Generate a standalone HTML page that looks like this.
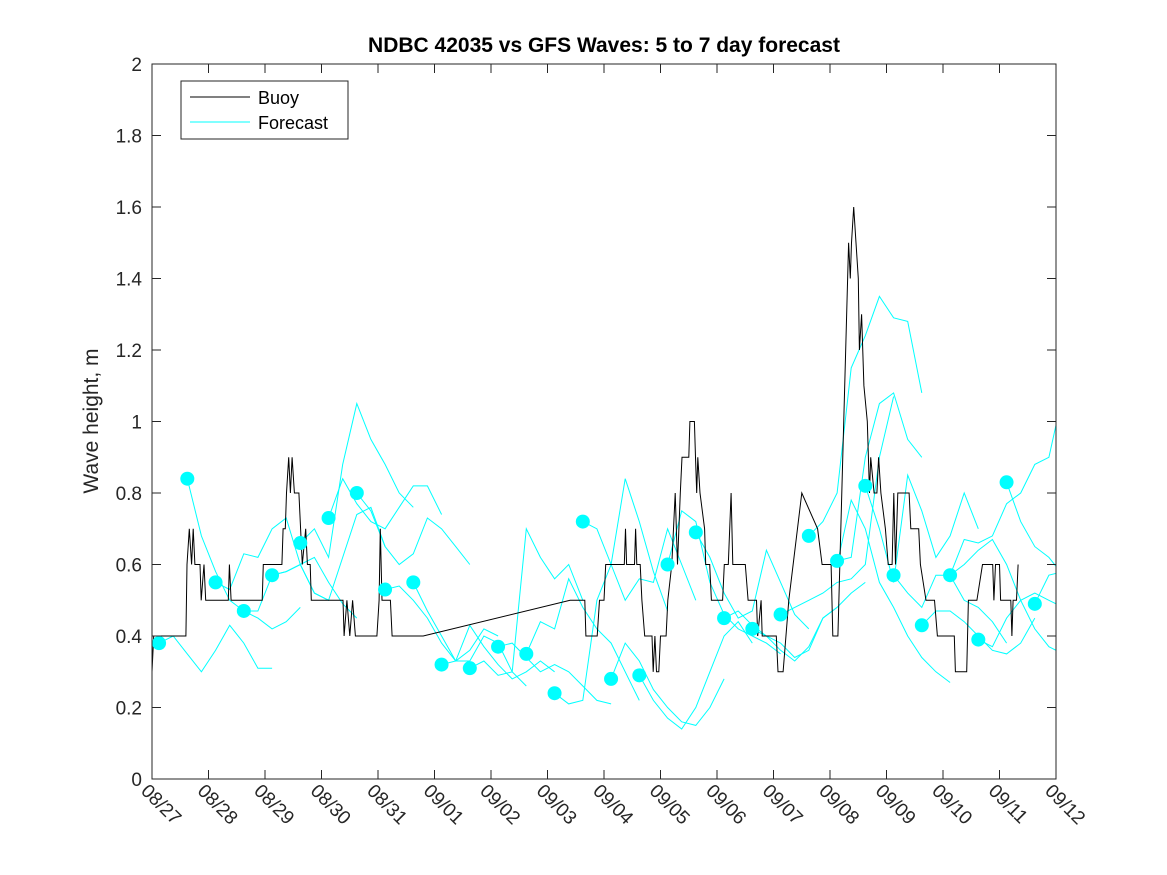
<!DOCTYPE html>
<html><head><meta charset="utf-8"><style>
html,body{margin:0;padding:0;background:#fff;}
svg{display:block;font-family:"Liberation Sans",sans-serif;}
</style></head><body>
<svg id="chart" width="1167" height="875" viewBox="0 0 1167 875">
<rect width="1167" height="875" fill="#fff"/>
<text x="604" y="52" text-anchor="middle" font-size="21" font-weight="bold" fill="#000">NDBC 42035 vs GFS Waves: 5 to 7 day forecast</text>
<text transform="translate(98,421) rotate(-90)" text-anchor="middle" font-size="21" fill="#262626">Wave height, m</text>
<defs><clipPath id="pc"><rect x="152" y="64" width="904" height="715"/></clipPath></defs>
<g id="plot" clip-path="url(#pc)"></g>
<g id="axes"></g>
<g>
<rect x="181" y="81" width="167" height="58" fill="#fff" stroke="#262626" stroke-width="1"/>
<line x1="190" y1="97" x2="250" y2="97" stroke="#000" stroke-width="1"/>
<text x="258" y="104" font-size="18" fill="#000">Buoy</text>
<line x1="190" y1="122" x2="250" y2="122" stroke="#00ffff" stroke-width="1"/>
<text x="258" y="129" font-size="18" fill="#000">Forecast</text>
</g>
</svg>
<script>
const xTickLabels=["08/27","08/28","08/29","08/30","08/31","09/01","09/02","09/03","09/04","09/05","09/06","09/07","09/08","09/09","09/10","09/11","09/12"];
const yTicks=[0,0.2,0.4,0.6,0.8,1,1.2,1.4,1.6,1.8,2];
const buoyDays=[0,0.03,0.6,0.62,0.66,0.7,0.73,0.76,0.85,0.87,0.92,0.95,1.35,1.37,1.4,1.95,1.97,2.3,2.32,2.36,2.38,2.42,2.45,2.48,2.52,2.6,2.63,2.66,2.72,2.75,2.8,2.82,3.38,3.4,3.45,3.5,3.55,3.6,3.98,4.02,4.04,4.07,4.22,4.25,4.8,7.4,7.66,7.68,7.88,7.92,8.0,8.03,8.36,8.38,8.4,8.54,8.56,8.58,8.64,8.67,8.72,8.85,8.87,8.9,8.93,8.97,9.0,9.1,9.13,9.2,9.26,9.3,9.35,9.38,9.5,9.52,9.6,9.62,9.64,9.66,9.7,9.78,9.8,9.87,9.9,10.1,10.13,10.2,10.25,10.28,10.5,10.55,10.7,10.72,10.78,10.8,11.05,11.08,11.17,11.27,11.5,11.78,11.86,12.02,12.05,12.14,12.33,12.36,12.38,12.42,12.46,12.5,12.52,12.56,12.6,12.66,12.7,12.72,12.78,12.83,12.86,12.9,12.98,13.03,13.1,13.13,13.16,13.2,13.4,13.43,13.57,13.6,13.7,13.85,13.9,14.2,14.22,14.42,14.45,14.6,14.7,14.88,14.9,14.93,15.0,15.02,15.2,15.22,15.24,15.3,15.33];
const buoyValues=[0.3,0.4,0.4,0.6,0.7,0.6,0.7,0.6,0.6,0.5,0.6,0.5,0.5,0.6,0.5,0.5,0.6,0.6,0.7,0.7,0.8,0.9,0.8,0.9,0.8,0.8,0.7,0.6,0.7,0.6,0.6,0.5,0.5,0.4,0.5,0.4,0.5,0.4,0.4,0.5,0.7,0.5,0.5,0.4,0.4,0.5,0.5,0.4,0.4,0.5,0.5,0.6,0.6,0.7,0.6,0.6,0.7,0.6,0.6,0.5,0.4,0.4,0.3,0.4,0.3,0.3,0.4,0.4,0.5,0.6,0.8,0.6,0.8,0.9,0.9,1.0,1.0,0.9,0.8,0.9,0.8,0.7,0.6,0.6,0.5,0.5,0.6,0.6,0.8,0.6,0.6,0.5,0.5,0.4,0.5,0.4,0.4,0.3,0.3,0.5,0.8,0.7,0.6,0.6,0.4,0.4,1.5,1.4,1.5,1.6,1.5,1.4,1.2,1.3,1.1,1.0,0.8,0.9,0.8,0.8,0.9,0.8,0.7,0.6,0.6,0.8,0.6,0.8,0.8,0.7,0.7,0.6,0.5,0.5,0.4,0.4,0.3,0.3,0.5,0.5,0.6,0.6,0.5,0.6,0.6,0.5,0.5,0.4,0.5,0.5,0.6];
const dotDays=[0.125,0.625,1.125,1.625,2.125,2.625,3.125,3.625,4.125,4.625,5.125,5.625,6.125,6.625,7.125,7.625,8.125,8.625,9.125,9.625,10.125,10.625,11.125,11.625,12.125,12.625,13.125,13.625,14.125,14.625,15.125,15.625];
const dotValues=[0.38,0.84,0.55,0.47,0.57,0.66,0.73,0.80,0.53,0.55,0.32,0.31,0.37,0.35,0.24,0.72,0.28,0.29,0.60,0.69,0.45,0.42,0.46,0.68,0.61,0.82,0.57,0.43,0.57,0.39,0.83,0.49];
const fcStep=0.25;
const fcStarts=[0.125,0.625,1.125,1.625,2.125,2.625,3.125,3.625,4.125,4.625,5.125,5.625,6.125,6.625,7.125,7.625,8.125,8.625,9.125,9.625,10.125,10.625,11.125,11.625,12.125,12.625,13.125,13.625,14.125,14.625,15.125,15.625,12.125,14.125];
const fcValues=[
[0.38,0.40,0.35,0.30,0.36,0.43,0.38,0.31,0.31],
[0.84,0.68,0.58,0.50,0.47,0.45,0.42,0.44,0.48],
[0.55,0.53,0.63,0.62,0.70,0.73,0.60,0.52,0.50],
[0.47,0.47,0.57,0.58,0.60,0.62,0.55,0.49,0.45],
[0.57,0.58,0.60,0.52,0.50,0.62,0.74,0.76,0.65],
[0.66,0.70,0.62,0.88,1.05,0.95,0.88,0.80,0.76],
[0.73,0.84,0.77,0.72,0.70,0.76,0.82,0.82,0.74],
[0.80,0.75,0.65,0.60,0.63,0.73,0.70,0.65,0.60],
[0.53,0.54,0.50,0.45,0.38,0.33,0.36,0.42,0.40],
[0.55,0.47,0.40,0.33,0.33,0.40,0.38,0.30,0.26],
[0.32,0.33,0.43,0.37,0.32,0.28,0.30,0.33,0.30],
[0.31,0.33,0.29,0.30,0.70,0.62,0.56,0.60,0.50],
[0.37,0.38,0.34,0.30,0.32,0.30,0.26,0.22,0.21],
[0.35,0.44,0.42,0.56,0.48,0.42,0.38,0.30,0.22],
[0.24,0.21,0.22,0.50,0.60,0.84,0.72,0.58,0.47],
[0.72,0.70,0.60,0.50,0.56,0.55,0.70,0.60,0.50],
[0.28,0.38,0.33,0.25,0.20,0.16,0.15,0.20,0.28],
[0.29,0.22,0.17,0.14,0.20,0.30,0.40,0.44,0.38],
[0.60,0.75,0.72,0.55,0.46,0.42,0.40,0.38,0.35],
[0.69,0.62,0.52,0.45,0.47,0.64,0.55,0.46,0.42],
[0.45,0.47,0.43,0.40,0.38,0.34,0.36,0.45,0.48],
[0.42,0.40,0.36,0.33,0.37,0.45,0.48,0.52,0.55],
[0.46,0.48,0.50,0.52,0.55,0.56,0.60,0.90,1.07],
[0.68,0.72,0.80,1.15,1.24,1.35,1.29,1.28,1.08],
[0.61,0.62,0.90,1.05,1.08,0.95,0.90],
[0.82,0.70,0.55,0.85,0.75,0.62,0.68,0.80,0.70],
[0.57,0.52,0.48,0.57,0.57,0.50,0.48,0.44,0.38],
[0.43,0.47,0.47,0.44,0.40,0.36,0.35,0.38,0.45],
[0.57,0.67,0.66,0.68,0.77,0.80,0.88,0.90,1.08],
[0.39,0.37,0.45,0.50,0.52,0.50,0.48,0.58,0.60],
[0.83,0.72,0.65,0.62,0.57,0.55],
[0.49,0.57,0.58,0.56],
[0.60,0.78,0.70,0.55,0.48,0.40,0.34,0.30,0.27],
[0.57,0.60,0.64,0.67,0.60,0.50,0.42,0.37,0.35]
];
const X0=152,X1=1056,Y0=779,Y1=64,DMAX=16,VMAX=2;
function xs(d){return X0+(X1-X0)*d/DMAX;}
function ys(v){return Y0-(Y0-Y1)*v/VMAX;}
const NS="http://www.w3.org/2000/svg";
const plot=document.getElementById('plot'),axes=document.getElementById('axes');
function mk(tag,attrs,parent){const e=document.createElementNS(NS,tag);for(const k in attrs)e.setAttribute(k,attrs[k]);parent.appendChild(e);return e;}
fcValues.forEach((vals,i)=>{
  const pts=vals.map((v,j)=>xs(fcStarts[i]+j*fcStep).toFixed(1)+","+ys(v).toFixed(1)).join(" ");
  const pl=mk('polyline',{points:pts,fill:'none',stroke:'#00ffff','stroke-width':1},plot);
  
  
});
const bp=buoyDays.map((d,i)=>xs(d).toFixed(1)+","+ys(buoyValues[i]).toFixed(1)).join(" ");
const bl=mk('polyline',{points:bp,fill:'none',stroke:'#000','stroke-width':1},plot);


dotDays.forEach((d,i)=>{
  const c=mk('circle',{cx:xs(d),cy:ys(dotValues[i]),r:7,fill:'#00ffff'},plot);
  
  
});
const frame=mk('rect',{x:X0,y:Y1,width:X1-X0,height:Y0-Y1,fill:'none',stroke:'#262626','stroke-width':1},axes);


yTicks.forEach(v=>{
  const y=ys(v);
  mk('line',{x1:X0,y1:y,x2:X0+9,y2:y,stroke:'#262626'},axes);
  mk('line',{x1:X1,y1:y,x2:X1-9,y2:y,stroke:'#262626'},axes);
  const t=mk('text',{x:X0-10,y:y+7,'text-anchor':'end','font-size':19,fill:'#262626'},axes);
  t.textContent=String(v);
  
  
});
xTickLabels.forEach((lab,i)=>{
  const x=xs(i);
  mk('line',{x1:x,y1:Y0,x2:x,y2:Y0-9,stroke:'#262626'},axes);
  mk('line',{x1:x,y1:Y1,x2:x,y2:Y1+9,stroke:'#262626'},axes);
  const t=mk('text',{transform:`translate(${x-12},${Y0+13}) rotate(45)`,'font-size':19,fill:'#262626'},axes);
  t.textContent=lab;
  
  
});
</script>
</body></html>
